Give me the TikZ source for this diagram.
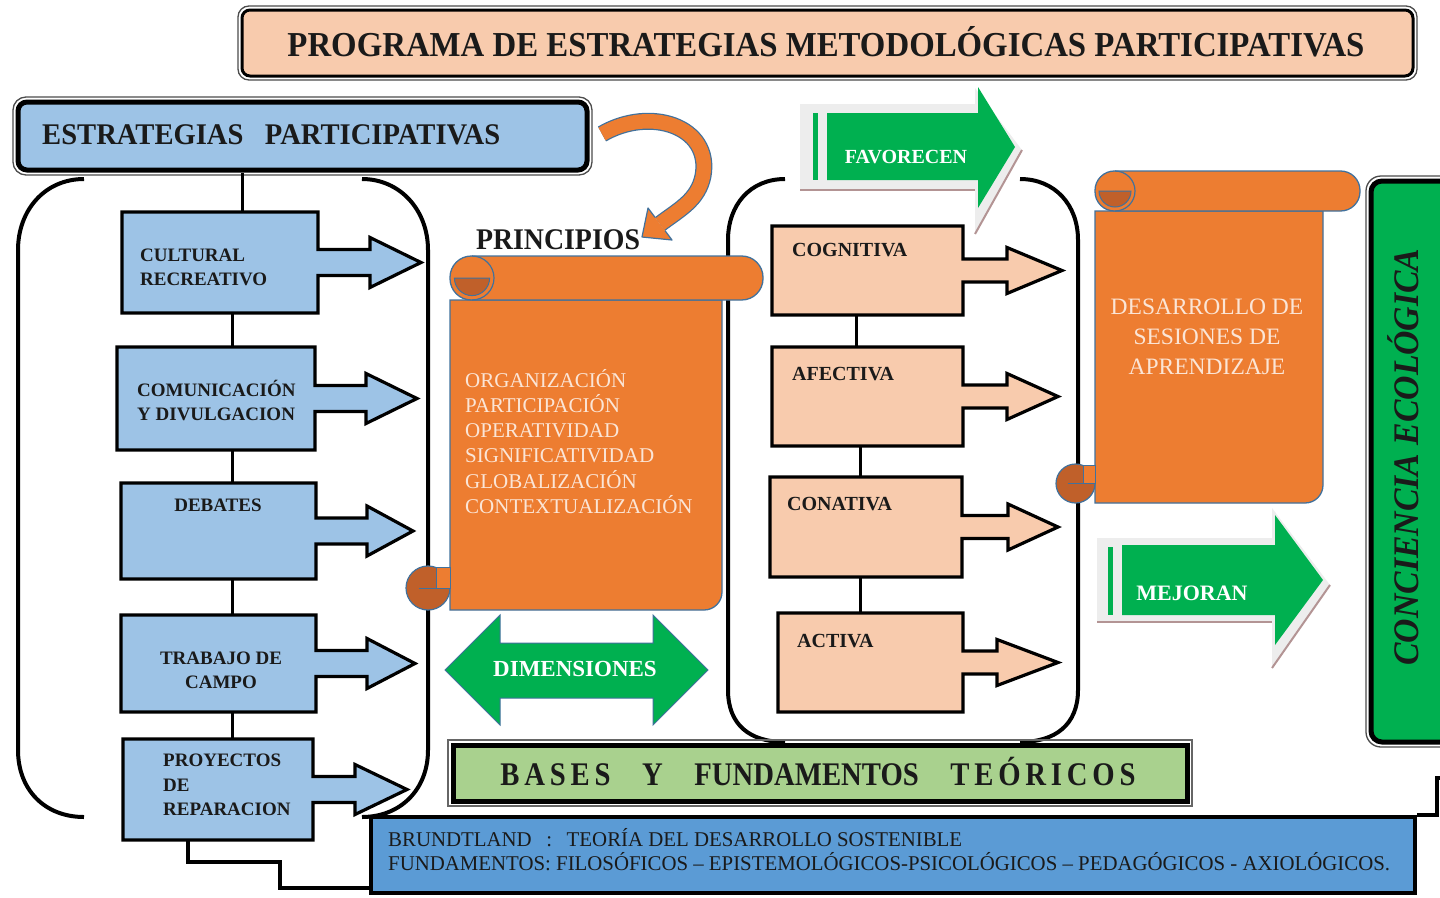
\documentclass[tikz,border=0pt]{standalone}
\usepackage{fontspec}
\setmainfont{Liberation Serif}
\usepackage{graphicx}
\definecolor{peach}{HTML}{F8CBAD}
\definecolor{lblue}{HTML}{9DC3E6}
\definecolor{mblue}{HTML}{5B9BD5}
\definecolor{scrollor}{HTML}{ED7D31}
\definecolor{scrolldk}{HTML}{C0602A}
\definecolor{scrollbl}{HTML}{41719C}
\definecolor{grn}{HTML}{00B050}
\definecolor{lgrn}{HTML}{A9D18E}
\definecolor{cream}{HTML}{FBE5D6}
\definecolor{shgray}{HTML}{EDEDED}
\definecolor{shline}{HTML}{B39494}
\definecolor{txtdark}{HTML}{1A1A1A}
\newcommand{\fitw}[2]{\resizebox{#1}{\height}{#2}}
\newcommand{\cbs}{13}
\newcommand{\cbh}{25}
% box with right arrow: name, x1, y1, x2, y2, head start x, tip x, fill
\newcommand{\callbox}[8]{%
  \pgfmathsetmacro{\cbcy}{(#3+#5)/2}%
  \draw[boxline, fill=#8] (#2,#3) -- (#4,#3) -- (#4,\cbcy-\cbs) -- (#6,\cbcy-\cbs) -- (#6,\cbcy-\cbh) -- (#7,\cbcy) -- (#6,\cbcy+\cbh) -- (#6,\cbcy+\cbs) -- (#4,\cbcy+\cbs) -- (#4,#5) -- (#2,#5) -- cycle;%
  \node[inner sep=0pt, minimum width={(#4-#2)*1pt}, minimum height={(#5-#3)*1pt}] (#1) at ({(#2+#4)/2},\cbcy) {};%
}
% scroll: L, T, B, RR, R, BB, r
\newcommand{\scrollshape}[7]{%
  \pgfmathsetmacro{\scrr}{(#3-#2)/2}%
  \pgfmathsetmacro{\scrrc}{\scrr*0.97}%
  \draw[scrollst] (#1,#3) -- (#1,#6) -- ({#5-18},#6) .. controls ({#5-8},#6) and (#5,{#6-8}) .. (#5,{#6-18}) -- (#5,#3) -- cycle;%
  \draw[scrollst, rounded corners=\scrrc pt] (#1,#2) rectangle (#4,#3);%
  \filldraw[fill=scrolldk, draw=scrollbl, line width=1pt] ({#1+1.8*\scrr},{#2+\scrr}) arc[start angle=0, end angle=180, radius={0.8*\scrr}] -- cycle;%
  \draw[scrollbl, line width=1.2pt] ({#1+\scrr},#2) arc[start angle=-90, end angle=90, radius=\scrr];%
  \filldraw[fill=scrolldk, draw=scrollbl, line width=1.2pt] ({#1-#7},{#6-#7}) circle[radius=#7];%
  \filldraw[fill=scrollor, draw=scrollbl, line width=1pt] ({#1-0.6*#7},{#6-2*#7+1}) rectangle (#1,{#6-#7});%
  \draw[scrollbl, line width=1pt] ({#1-1.4*#7},{#6-#7}) -- (#1,{#6-#7});%
}
\begin{document}
\begin{tikzpicture}[x=1pt,y=-1pt,
  boxline/.style={draw=black, line width=3.2pt, line join=miter},
  conn/.style={draw=black, line width=3pt},
  brack/.style={draw=black, line width=4pt},
  scrollst/.style={fill=scrollor, draw=scrollbl, line width=1.3pt},
  btxt/.style={font=\fontsize{19}{24}\selectfont\bfseries, text=txtdark, inner sep=0pt},
  ptxt/.style={font=\fontsize{20}{24}\selectfont\bfseries, text=txtdark, inner sep=0pt, anchor=north west},
  outerln/.style={draw=black!70, line width=1.3pt},
]
\useasboundingbox (0,0) rectangle (1440,897);
\clip (0,0) rectangle (1440,897);

% brackets
\draw[brack] (84,179) .. controls (45,179) and (18,210) .. (18,250) -- (18,750) .. controls (18,790) and (45,817) .. (84,817);
\draw[brack] (362,179) .. controls (400,179) and (428,210) .. (428,250) -- (428,750) .. controls (428,790) and (400,817) .. (362,817);
\draw[brack] (785,179) .. controls (750,179) and (728,205) .. (728,240) -- (728,690) .. controls (728,725) and (750,742) .. (785,742);
\draw[brack] (1020,179) .. controls (1055,179) and (1078,205) .. (1078,240) -- (1078,690) .. controls (1078,725) and (1055,742) .. (1020,742);

% title
\draw[outerln, rounded corners=11pt] (238,6) rectangle (1417,80);
\node[draw=black, line width=3pt, fill=peach, rounded corners=8pt, minimum width=1171pt, minimum height=66pt, inner sep=0pt] (title) at (827.5,43) {};
\node[inner sep=0pt, font=\fontsize{35}{40}\selectfont\bfseries, text=txtdark, text height=23.2pt, text depth=0pt] (ttl) at (826,45) {\fitw{1077pt}{PROGRAMA DE ESTRATEGIAS METODOLÓGICAS PARTICIPATIVAS}};

% estrategias
\draw[outerln, rounded corners=13pt] (13,97) rectangle (592,175);
\node[draw=black, line width=5pt, fill=lblue, rounded corners=9pt, minimum width=569pt, minimum height=68pt, inner sep=0pt] (estr) at (302.5,136) {};
\node[inner sep=0pt, anchor=west, font=\fontsize{30}{34}\selectfont\bfseries, text=txtdark, text height=19.9pt, text depth=0pt] (estrt) at (42,135) {\fitw{458pt}{ESTRATEGIAS\hspace{0.75em}PARTICIPATIVAS}};

% blue boxes
\callbox{cult}{122}{212}{318}{313}{370}{421}{lblue}
\callbox{comu}{117}{347}{315}{450}{366}{417}{lblue}
\callbox{deb}{121}{483}{316}{579}{367}{413}{lblue}
\callbox{trab}{121}{615}{316}{712}{367}{415}{lblue}
\callbox{proy}{123}{739}{313}{840}{355}{407}{lblue}

% peach boxes
\renewcommand{\cbs}{11.5}\renewcommand{\cbh}{23}
\callbox{cogn}{772}{226}{963}{315}{1007}{1062}{peach}
\callbox{afec}{772}{347}{963}{446}{1007}{1058}{peach}
\callbox{cona}{770}{477}{962}{577}{1008}{1058}{peach}
\callbox{acti}{778}{613}{963}{712}{997}{1058}{peach}

% bases + brundtland + conciencia
\draw[draw=black!60, line width=1.2pt] (448,740) rectangle (1192,806);
\node[draw=black, line width=5pt, fill=lgrn, minimum width=734pt, minimum height=56pt, inner sep=0pt] (bases) at (820,773) {};
\node[draw=black, line width=4.5pt, fill=mblue, minimum width=1044pt, minimum height=76pt, inner sep=0pt] (brund) at (893,855) {};
\draw[outerln, rounded corners=15pt] (1366,176) rectangle (1480,747);
\node[draw=black, line width=5pt, fill=grn, rounded corners=11pt, minimum width=109pt, minimum height=561pt, inner sep=0pt] (conc) at (1425.5,461.5) {};

% connectors
\coordinate (vxa) at (242,0);
\coordinate (vxb) at (232,0);
\coordinate (vxc) at (856,0);
\coordinate (vxd) at (860,0);
\draw[conn] (estr.south -| vxa) -- (cult.north -| vxa);
\draw[conn] (cult.south -| vxb) -- (comu.north -| vxb);
\draw[conn] (comu.south -| vxb) -- (deb.north -| vxb);
\draw[conn] (deb.south -| vxb) -- (trab.north -| vxb);
\draw[conn] (trab.south -| vxb) -- (proy.north -| vxb);
\draw[conn] (cogn.south -| vxc) -- (afec.north -| vxc);
\draw[conn] (afec.south -| vxd) -- (cona.north -| vxd);
\draw[conn] (cona.south -| vxd) -- (acti.north -| vxd);
\coordinate (px) at (188,0);
\coordinate (jx) at (280,862);
\coordinate (jy) at (0,888);
\draw[conn, line width=4pt] (proy.south -| px) |- (jx) |- (brund.west |- jy);
\coordinate (offr) at (1450,778);
\draw[conn, line width=4pt] (brund.north east) -- ++(20,0) |- (offr);

% scrolls
\scrollshape{450}{256}{300}{763}{722}{610}{22}
\scrollshape{1095}{171}{211}{1360}{1323}{503}{19.5}

% curved arrow estrategias -> principios
\draw[line width=17pt, scrollbl] (602,134) .. controls (650,106) and (712,126) .. (703,176) .. controls (698,200) and (680,209) .. (660,224);
\draw[line width=14.5pt, scrollor] (602,134) .. controls (650,106) and (712,126) .. (703,176) .. controls (698,200) and (680,209) .. (660,224);
\fill[scrollor] (648,208) -- (642,237) -- (672,240) -- cycle;
\draw[scrollbl, line width=1.2pt, line join=round] (654.9,217.2) -- (648,208) -- (642,237) -- (672,240) -- (665.1,230.8);

% FAVORECEN arrow
\fill[shgray] (800,104) -- (975,104) -- (975,88) -- (1022,150) -- (975,234) -- (975,190) -- (800,190) -- cycle;
\draw[shline, line width=2pt] (800,190) -- (975,190);
\draw[shline, line width=2pt] (1022,150) -- (975,234);
\fill[grn] (813,113) rectangle (818,180);
\fill[grn] (827,113) -- (978,113) -- (978,87) -- (1015,147) -- (978,208) -- (978,180) -- (827,180) -- cycle;

% MEJORAN arrow
\fill[shgray] (1097,538) -- (1272,538) -- (1272,508) -- (1330,585) -- (1272,668) -- (1272,622) -- (1097,622) -- cycle;
\draw[shline, line width=2pt] (1097,622) -- (1272,622);
\draw[shline, line width=2pt] (1330,585) -- (1272,668);
\fill[grn] (1108,547) rectangle (1113,615);
\fill[grn] (1122,545) -- (1275,545) -- (1275,515) -- (1323,580) -- (1275,645) -- (1275,615) -- (1122,615) -- cycle;

% DIMENSIONES double arrow
\filldraw[fill=grn, draw=scrollbl, line width=1pt] (445,670) -- (500,615) -- (500,643) -- (653,643) -- (653,615) -- (708,670) -- (653,725) -- (653,698) -- (500,698) -- (500,725) -- cycle;

% texts
\node[btxt, align=left, anchor=north west] (tcult) at (140,249) {CULTURAL\\RECREATIVO};
\node[btxt, align=left, anchor=north west] (tcomu) at (137,380) {COMUNICACIÓN\\Y DIVULGACION};
\node[btxt, text height=12.6pt, text depth=0pt] (tdeb) at (218,505) {DEBATES};
\node[btxt, align=center, anchor=north] (ttrab) at (221,652) {TRABAJO DE\\CAMPO};
\node[btxt, align=left, anchor=north west, font=\fontsize{19}{24.5}\selectfont\bfseries] (tproy) at (163,754) {PROYECTOS\\DE\\REPARACION};

\node[ptxt] (tcogn) at (792,243) {COGNITIVA};
\node[ptxt] (tafec) at (792,367) {AFECTIVA};
\node[ptxt] (tcona) at (787,497) {CONATIVA};
\node[ptxt] (tacti) at (797,634) {ACTIVA};

\node[inner sep=0pt, font=\fontsize{30}{34}\selectfont\bfseries, text=txtdark, text height=19.9pt, text depth=0pt] (princ) at (558,240) {\fitw{164pt}{PRINCIPIOS}};
\node[font=\fontsize{21}{25.2}\selectfont, text=cream, align=left, anchor=north west, inner sep=0pt] (plist) at (465,369) {ORGANIZACIÓN\\PARTICIPACIÓN\\OPERATIVIDAD\\SIGNIFICATIVIDAD\\GLOBALIZACIÓN\\CONTEXTUALIZACIÓN};
\node[font=\fontsize{23.5}{30}\selectfont, text=cream, align=center, anchor=north, inner sep=0pt] (desa) at (1207,299) {DESARROLLO DE\\SESIONES DE\\APRENDIZAJE};

\node[inner sep=0pt, font=\fontsize{20}{24}\selectfont\bfseries, text=white, text height=13.2pt, text depth=0pt] (fav) at (906,157) {FAVORECEN};
\node[inner sep=0pt, font=\fontsize{22}{26}\selectfont\bfseries, text=white, text height=14.6pt, text depth=0pt] (mej) at (1192,593) {MEJORAN};
\node[inner sep=0pt, font=\fontsize{23}{26}\selectfont\bfseries, text=white, text height=15.2pt, text depth=0pt] (dim) at (575,669) {DIMENSIONES};

\node[inner sep=0pt, font=\fontsize{33}{36}\selectfont\bfseries, text=txtdark, text height=21.8pt, text depth=0pt] (basest) at (818,775) {\fitw{635pt}{B\,A\,S\,E\,S\hspace{1.1em}Y\hspace{1.1em}FUNDAMENTOS\hspace{1.1em}T\,E\,Ó\,R\,I\,C\,O\,S}};

\node[inner sep=0pt, anchor=west, font=\fontsize{21}{24}\selectfont, text=txtdark, text height=13.9pt, text depth=0pt] (br1) at (388,840) {\fitw{574pt}{BRUNDTLAND\hspace{0.7em}:\hspace{0.7em}TEORÍA DEL DESARROLLO SOSTENIBLE}};
\node[inner sep=0pt, anchor=west, font=\fontsize{21}{24}\selectfont, text=txtdark, text height=13.9pt, text depth=0pt] (br2) at (388,864) {\fitw{1002pt}{FUNDAMENTOS: FILOSÓFICOS – EPISTEMOLÓGICOS-PSICOLÓGICOS – PEDAGÓGICOS - AXIOLÓGICOS.}};

\node[inner sep=0pt, rotate=90, font=\fontsize{36}{40}\selectfont\bfseries\itshape, text=txtdark, text height=23.8pt, text depth=0pt] (conct) at (1407,457) {\fitw{417pt}{CONCIENCIA ECOLÓGICA}};
\end{tikzpicture}
\end{document}
